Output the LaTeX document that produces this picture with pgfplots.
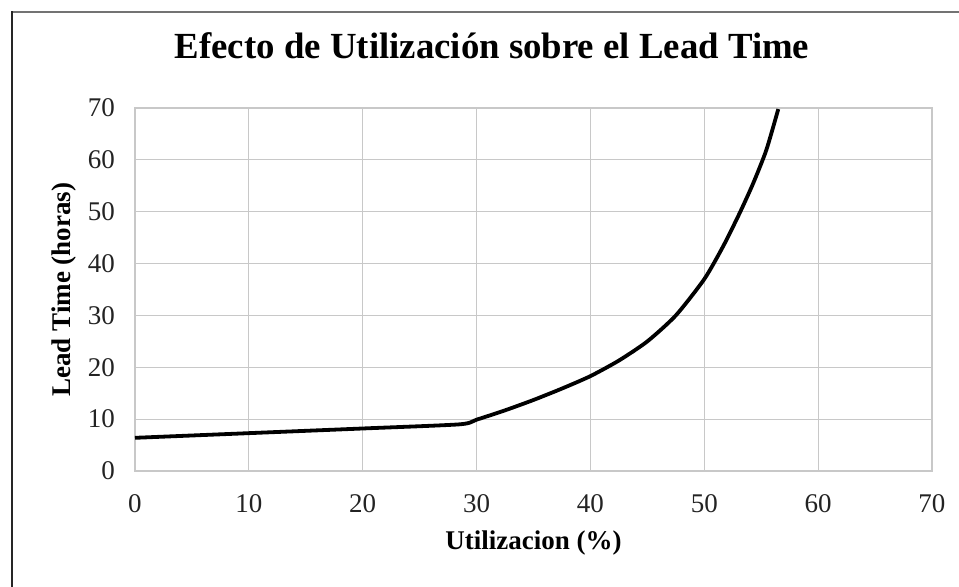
\documentclass[border=0pt]{standalone}
\usepackage{pgfplots}
\pgfplotsset{compat=1.18}
\usepackage{fontspec}
\setmainfont{Liberation Serif}
\definecolor{gridc}{RGB}{200,200,200}
\definecolor{txt}{RGB}{35,35,35}
\begin{document}
\begin{tikzpicture}
\useasboundingbox (-67.5pt,-57.5pt) rectangle (412pt,235.5pt);
\draw[line width=0.7pt, color=black!55] (-61.5pt,229.5pt) -- (415pt,229.5pt);
\draw[line width=1.3pt, color=black!85] (-61.5pt,-60pt) -- (-61.5pt,230pt);
\begin{axis}[
  at={(0pt,0pt)}, anchor=south west,
  scale only axis,
  width=398.5pt, height=181.5pt,
  xmin=0, xmax=70, ymin=0, ymax=70,
  xtick={0,10,...,70}, ytick={0,10,...,70},
  grid=major,
  major grid style={gridc, line width=0.6pt},
  axis line style={gridc, line width=0.6pt},
  major tick length=0pt,
  tick style={draw=none},
  /pgf/number format/assume math mode=true,
  ticklabel style={font=\fontsize{13.5}{15}\selectfont, text=txt},
  yticklabel style={xshift=-6.5pt},
  xticklabel style={yshift=-8pt},
  every axis title shift=0pt,
  title={Efecto de Utilización sobre el Lead Time},
  title style={font=\fontsize{18.4}{22}\selectfont\bfseries, at={(axis description cs:0.448,1.1377)}, anchor=base},
  xlabel={Utilizacion (\%)},
  xlabel style={font=\fontsize{13.5}{16}\selectfont\bfseries, at={(axis description cs:0.5,-0.2176)}, anchor=base},
  ylabel={Lead Time (horas)},
  ylabel style={font=\fontsize{13.5}{16}\selectfont\bfseries, at={(axis description cs:-0.081,0.5)}, anchor=base},
]
\addplot[black, line width=1.9pt, line join=round, smooth, tension=0.4] table {
x y
0 6.4
10 7.3
20 8.2
28.5 9.0
30 9.9
32.5 11.7
35 13.7
37.5 15.9
40 18.3
42.5 21.3
45 25.0
47.5 30.0
50 37.0
51.65 43.3
53.1 49.7
54.3 55.5
55.45 61.9
56.5 69.8
};
\end{axis}
\end{tikzpicture}
\end{document}
